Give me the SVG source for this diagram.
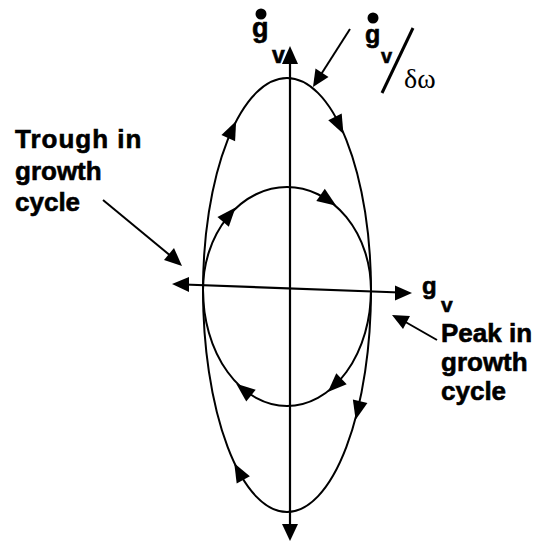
<svg xmlns="http://www.w3.org/2000/svg" width="534" height="542" viewBox="0 0 534 542">
<style>
.ln{fill:none;stroke:#000;stroke-width:2}
.ax{fill:none;stroke:#000;stroke-width:2.2}
.lbl{font-family:"Liberation Sans",Arial,sans-serif;font-weight:bold;font-size:26px;fill:#000;stroke:#000;stroke-width:0.6}
.sym{font-family:"Liberation Sans",Arial,sans-serif;font-weight:bold;fill:#000;stroke:#000;stroke-width:0.6}
.grk{font-family:"Liberation Serif","Times New Roman",serif;font-size:28px;fill:#000}
</style>
<defs>
<path id="tri" d="M10 0 L-9 -7.5 L-9 7.5 Z" fill="#000"/>
</defs>
<rect width="534" height="542" fill="#fff"/>
<g id="connectors">
<line class="ax" x1="290" y1="58" x2="290" y2="528"/>
<polygon points="290,46 282,64 298,64" fill="#000"/>
<polygon points="290,541 282,524 298,524" fill="#000"/>
<line class="ax" x1="184" y1="284.5" x2="400" y2="292.5"/>
<polygon points="172,284 189,277 189,292" fill="#000"/>
<polygon points="412,293 395,285.5 395,300.5" fill="#000"/>
<path class="ln" d="M203 290 A84 212 0 0 1 371 290 A84 222 0 0 1 203 290 Z"/>
<path class="ln" d="M203 290 A84 103 0 0 1 371 290 A84 116 0 0 1 203 290 Z"/>
<use href="#tri" transform="translate(232,130) rotate(-65.5)"/>
<use href="#tri" transform="translate(339,125) rotate(63.5)"/>
<use href="#tri" transform="translate(358,410) rotate(103.7)"/>
<use href="#tri" transform="translate(239,472) rotate(-118.5)"/>
<use href="#tri" transform="translate(229,215) rotate(-49.3)"/>
<use href="#tri" transform="translate(328,200) rotate(34.3)"/>
<use href="#tri" transform="translate(335,385) rotate(136)"/>
<use href="#tri" transform="translate(244,390) rotate(-140.9)"/>
<line class="ln" x1="350" y1="29" x2="320" y2="76"/>
<polygon points="313,87 315.5,68.5 328.5,77" fill="#000"/>
<line class="ln" x1="103" y1="200" x2="172" y2="257"/>
<polygon points="182,266 164,260 174,248" fill="#000"/>
<line class="ln" x1="437" y1="340" x2="402" y2="320"/>
<polygon points="392,315 410,316 403,329" fill="#000"/>
</g>
<g id="label-gdot-vertical">
<circle cx="261" cy="14" r="5.5" fill="#000"/>
<text class="sym" x="252" y="37" font-size="27">g</text>
<text class="sym" x="272" y="63" font-size="23">v</text>
</g>
<g id="label-gdot-ratio">
<circle cx="373" cy="18" r="5.5" fill="#000"/>
<text class="sym" x="365" y="43" font-size="25">g</text>
<text class="sym" x="381" y="63" font-size="20">v</text>
<line x1="413" y1="28" x2="382" y2="93" stroke="#000" stroke-width="3"/>
<text class="grk" x="404" y="88">δω</text>
</g>
<g id="label-gv-horizontal">
<text class="sym" x="422" y="294" font-size="24">g</text>
<text class="sym" x="441" y="312" font-size="21">v</text>
</g>
<g id="label-trough">
<text class="lbl" x="15" y="148" letter-spacing="1">Trough in</text>
<text class="lbl" x="15" y="180">growth</text>
<text class="lbl" x="15" y="211">cycle</text>
</g>
<g id="label-peak">
<text class="lbl" x="441" y="342">Peak in</text>
<text class="lbl" x="441" y="371">growth</text>
<text class="lbl" x="441" y="400">cycle</text>
</g>
</svg>
